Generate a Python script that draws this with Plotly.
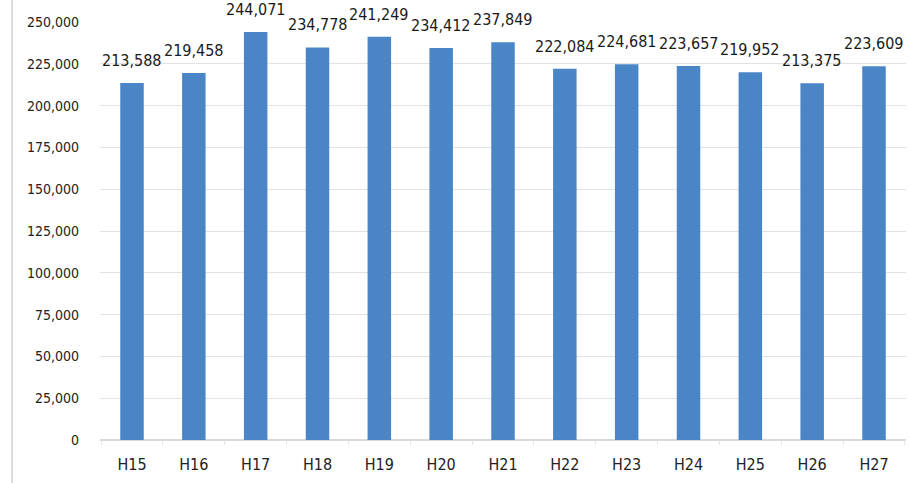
import plotly.graph_objects as go

years = ["H15", "H16", "H17", "H18", "H19", "H20", "H21", "H22", "H23", "H24", "H25", "H26", "H27"]
values = [213588, 219458, 244071, 234778, 241249, 234412, 237849, 222084, 224681, 223657, 219952, 213375, 223609]
y_ticks = list(range(0, 250001, 25000))

font_family = "DejaVu Sans Condensed, Liberation Sans Narrow, sans-serif"

fig = go.Figure(
    go.Bar(
        x=years,
        y=values,
        marker=dict(color="#4a86c6", line=dict(width=0)),
        width=0.38,
        hoverinfo="x+y",
    )
)

# value labels floating above each bar
for yr, v in zip(years, values):
    fig.add_annotation(
        x=yr, y=v, text=f"{v:,}",
        showarrow=False, yanchor="bottom", yshift=11,
        font=dict(family=font_family, size=16, color="#1a1a1a"),
    )

fig.update_layout(
    width=909,
    height=483,
    margin=dict(l=100, r=3, t=22, b=43),
    paper_bgcolor="white",
    plot_bgcolor="white",
    showlegend=False,
    font=dict(family=font_family, size=15, color="#222222"),
    xaxis=dict(
        showgrid=False,
        showline=False,
        tickson="boundaries",
        ticks="outside",
        ticklen=4,
        tickcolor="#e4e4e4",
        ticklabelstandoff=13,
        tickfont=dict(size=16),
    ),
    yaxis=dict(
        range=[0, 250000],
        tickvals=y_ticks,
        ticktext=[f"{v:,}" for v in y_ticks],
        showgrid=True,
        gridcolor="#e2e2e2",
        gridwidth=1,
        zeroline=True,
        zerolinecolor="#d9d9d9",
        showline=False,
        ticks="",
        ticklabelstandoff=20,
        tickfont=dict(size=14),
    ),
    shapes=[
        dict(
            type="line", xref="paper", yref="paper",
            x0=-0.109, x1=-0.109, y0=-0.11, y1=1.06,
            line=dict(color="#d0d0d0", width=1.5),
        )
    ],
)

fig.write_html("out.html")
